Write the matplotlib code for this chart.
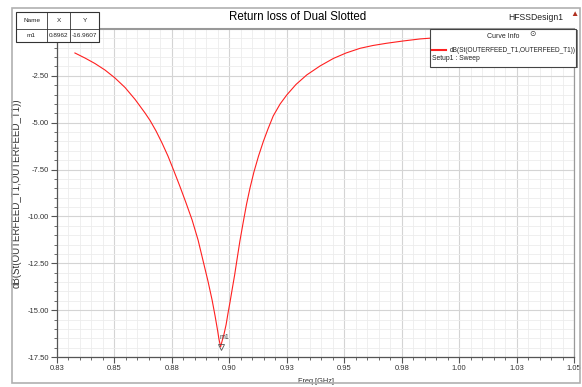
import matplotlib
matplotlib.use("Agg")
import matplotlib.pyplot as plt
from matplotlib.patches import Rectangle
from matplotlib.ticker import MultipleLocator, FixedLocator

# values
freq_ghz = [0.8328, 0.8372, 0.8415, 0.8459, 0.8502, 0.8546, 0.8590, 0.8633,
            0.8655, 0.8681, 0.8707, 0.8733, 0.8759, 0.8785, 0.8811, 0.8838,
            0.8864, 0.8885, 0.8907, 0.8925, 0.8938, 0.8949, 0.8954, 0.8962,
            0.8968, 0.8977, 0.8986, 0.8994, 0.9003, 0.9014, 0.9023, 0.9032,
            0.9046, 0.9061, 0.9075, 0.9090, 0.9107, 0.9127, 0.9148, 0.9168,
            0.9191, 0.9221, 0.9250, 0.9290, 0.9337, 0.9395, 0.9453, 0.9508,
            0.9569, 0.9625, 0.9685, 0.9756, 0.9830, 0.9873, 1.0047, 1.0265, 1.0500]
s11_db = [-1.28, -1.55, -1.84, -2.19, -2.61, -3.12, -3.76, -4.48,
          -4.88, -5.44, -6.08, -6.78, -7.58, -8.40, -9.26, -10.19,
          -11.26, -12.33, -13.45, -14.46, -15.31, -16.09, -16.49, -16.96,
          -16.67, -16.27, -15.77, -15.18, -14.57, -13.77, -13.13, -12.41,
          -11.31, -10.27, -9.34, -8.48, -7.63, -6.78, -6.00, -5.34,
          -4.64, -4.00, -3.52, -2.96, -2.45, -1.97, -1.57, -1.28,
          -1.03, -0.88, -0.76, -0.64, -0.53, -0.49, -0.37, -0.28, -0.21]
marker_name = "m1"
marker_x = 0.8962
marker_y = -16.9607
x_ticks = [0.825, 0.85, 0.875, 0.9, 0.925, 0.95, 0.975, 1.0, 1.025, 1.05]
x_tick_labels = ["0.83", "0.85", "0.88", "0.90", "0.93", "0.95", "0.98", "1.00", "1.03", "1.05"]
y_ticks = [-17.5, -15.0, -12.5, -10.0, -7.5, -5.0, -2.5]
trace_name = "dB(St(OUTERFEED_T1,OUTERFEED_T1))"

plt.rcParams["font.family"] = ["Liberation Sans", "DejaVu Sans"]

W, H = 582, 387
fig = plt.figure(figsize=(W / 100, H / 100), dpi=100)


def fx(px):
    return px / W


def fy(py):
    return 1 - py / H


ax = fig.add_axes([fx(57), fy(357), fx(574) - fx(57), fy(29) - fy(357)])
ax.plot(freq_ghz, s11_db, color="#ff2020", lw=0.8)
ax.plot([marker_x], [marker_y], marker="v", ms=4, mfc="none", mec="#555555", mew=0.6)
ax.annotate(marker_name, (marker_x, marker_y), xytext=(-1, 4), textcoords="offset points",
            fontsize=5, color="#444444", ha="left", va="bottom")

ax.set_xlim(0.825, 1.05)
ax.set_ylim(-17.5, 0)
ax.xaxis.set_major_locator(FixedLocator(x_ticks))
ax.set_xticklabels(x_tick_labels)
ax.xaxis.set_minor_locator(MultipleLocator(0.005))
ax.set_yticks(y_ticks)
ax.set_yticklabels([f"{v:.2f}" for v in y_ticks])
ax.yaxis.set_minor_locator(MultipleLocator(0.5))
ax.grid(True, which="major", color="#d4d4d4", lw=0.8)
ax.grid(True, which="minor", color="#ececec", lw=0.6)
ax.set_axisbelow(True)
ax.tick_params(which="major", direction="out", length=4, width=0.8, color="#555555",
               labelsize=5.5, labelcolor="#333333", pad=2)
ax.tick_params(which="minor", direction="out", length=2, width=0.6, color="#555555")
for side in ["left", "bottom"]:
    ax.spines[side].set_color("#555555")
    ax.spines[side].set_linewidth(0.9)
ax.spines["top"].set_color("#999999")
ax.spines["top"].set_linewidth(1.5)
ax.spines["right"].set_color("#999999")
ax.spines["right"].set_linewidth(0.9)

ax.set_xlabel("Freq [GHz]", fontsize=5.3, color="#333333", labelpad=4)
ax.set_ylabel(trace_name, fontsize=7, color="#333333")
ax.yaxis.set_label_coords((22 - 57) / 517, 0.5)

# outer frame
fig.add_artist(Rectangle((fx(12), fy(383)), fx(580) - fx(12), fy(8) - fy(383),
                         fill=False, ec="#b0b0b0", lw=1.2, transform=fig.transFigure))

fig.text(fx(298), fy(17), "Return loss of Dual Slotted", fontsize=8.3, ha="center", va="center")
fig.text(fx(536), fy(17), "HFSSDesign1", fontsize=6.2, ha="center", va="center", color="#222222")
fig.text(fx(574), fy(14), "\u25b2", fontsize=6, ha="center", va="center", color="#b03020")

# marker table
fig.add_artist(Rectangle((fx(18), fy(43)), fx(100) - fx(18), fy(13) - fy(43),
                         fc="#999999", ec="none", transform=fig.transFigure))
fig.add_artist(Rectangle((fx(16), fy(42)), fx(99) - fx(16), fy(12) - fy(42),
                         fc="white", ec="#333333", lw=0.8, transform=fig.transFigure))
for px in [47, 70]:
    fig.add_artist(plt.Line2D([fx(px), fx(px)], [fy(12), fy(42)], color="#333333", lw=0.6))
fig.add_artist(plt.Line2D([fx(16), fx(99)], [fy(29), fy(29)], color="#333333", lw=0.6))
cells = [("Name", 31.5, 20.5), ("X", 58.5, 20.5), ("Y", 84.5, 20.5),
         (marker_name, 31.5, 35.5), (f"{marker_x:.4f}", 58.5, 35.5), (f"{marker_y:.4f}", 84.5, 35.5)]
for txt, px, py in cells:
    fig.text(fx(px), fy(py), txt, fontsize=4.6, ha="center", va="center", color="#222222")

# curve info box
fig.add_artist(Rectangle((fx(431), fy(68)), fx(578) - fx(431), fy(30) - fy(68),
                         fc="#888888", ec="none", transform=fig.transFigure))
fig.add_artist(Rectangle((fx(430), fy(67)), fx(576) - fx(430), fy(29) - fy(67),
                         fc="white", ec="#444444", lw=0.8, transform=fig.transFigure))
fig.text(fx(503), fy(36), "Curve Info", fontsize=5, ha="center", va="center", color="#222222")
fig.text(fx(532), fy(35), "\u2299", fontsize=5.5, ha="center", va="center", color="#333333")
fig.add_artist(plt.Line2D([fx(432), fx(446)], [fy(50), fy(50)], color="#ff2020", lw=1.5))
fig.text(fx(450), fy(50), trace_name, fontsize=4.7, ha="left", va="center", color="#222222")
fig.text(fx(432), fy(59), "Setup1 : Sweep", fontsize=4.9, ha="left", va="center", color="#222222")

fig.savefig("out.png", dpi=100)
